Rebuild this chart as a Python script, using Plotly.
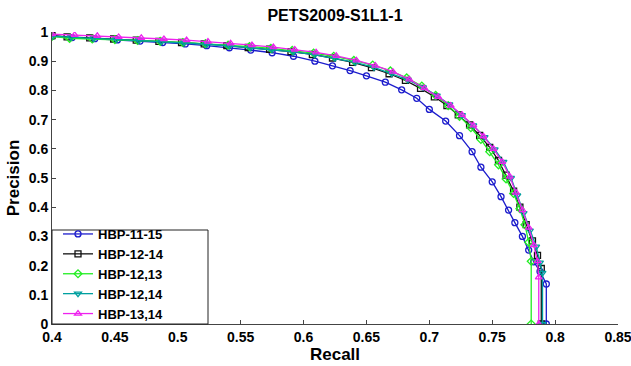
import plotly.graph_objects as go

# ---------------- data ----------------
series_names = ["HBP-11-15", "HBP-12-14", "HBP-12,13", "HBP-12,14", "HBP-13,14"]

recall_11_15 = [0.400, 0.416, 0.434, 0.452, 0.470, 0.488, 0.506, 0.523, 0.541, 0.558, 0.575, 0.592,
                0.609, 0.623, 0.637, 0.650, 0.665, 0.678, 0.690, 0.700, 0.713, 0.724, 0.734, 0.741,
                0.750, 0.757, 0.763, 0.768, 0.774, 0.779, 0.783, 0.788, 0.793, 0.793]
precision_11_15 = [0.985, 0.981, 0.977, 0.973, 0.969, 0.964, 0.959, 0.953, 0.946, 0.938, 0.929, 0.917,
                   0.900, 0.884, 0.868, 0.850, 0.828, 0.802, 0.773, 0.735, 0.695, 0.645, 0.590, 0.537,
                   0.487, 0.436, 0.390, 0.347, 0.300, 0.253, 0.213, 0.180, 0.137, 0.0]

recall_12_14 = [0.400, 0.412, 0.430, 0.449, 0.467, 0.485, 0.503, 0.521, 0.539, 0.556, 0.573, 0.590,
                0.607, 0.623, 0.639, 0.654, 0.668, 0.681, 0.693, 0.704, 0.714, 0.723, 0.732, 0.740,
                0.748, 0.755, 0.761, 0.767, 0.772, 0.777, 0.782, 0.786, 0.789, 0.789]
precision_12_14 = [0.988, 0.983, 0.980, 0.976, 0.972, 0.968, 0.964, 0.959, 0.953, 0.947, 0.941, 0.933,
                   0.923, 0.911, 0.896, 0.878, 0.857, 0.834, 0.807, 0.778, 0.748, 0.716, 0.682, 0.646,
                   0.605, 0.560, 0.510, 0.455, 0.400, 0.340, 0.285, 0.235, 0.190, 0.0]

recall_12c13 = [0.400, 0.414, 0.432, 0.450, 0.468, 0.486, 0.504, 0.522, 0.540, 0.557, 0.574, 0.591,
                0.608, 0.624, 0.640, 0.655, 0.669, 0.682, 0.694, 0.705, 0.715, 0.724, 0.733, 0.741,
                0.748, 0.755, 0.761, 0.767, 0.772, 0.776, 0.779, 0.781, 0.781]
precision_12c13 = [0.985, 0.978, 0.976, 0.974, 0.971, 0.968, 0.964, 0.960, 0.955, 0.950, 0.944, 0.937,
                   0.928, 0.917, 0.903, 0.887, 0.867, 0.843, 0.815, 0.783, 0.748, 0.711, 0.672, 0.632,
                   0.590, 0.545, 0.497, 0.447, 0.395, 0.340, 0.280, 0.215, 0.0]

recall_12c14 = [0.400, 0.415, 0.433, 0.451, 0.469, 0.487, 0.505, 0.523, 0.541, 0.558, 0.575, 0.592,
                0.609, 0.625, 0.641, 0.656, 0.670, 0.683, 0.695, 0.706, 0.716, 0.726, 0.735, 0.744,
                0.752, 0.759, 0.765, 0.770, 0.775, 0.780, 0.785, 0.788, 0.790, 0.790]
precision_12c14 = [0.986, 0.982, 0.978, 0.975, 0.971, 0.967, 0.963, 0.958, 0.952, 0.946, 0.940, 0.932,
                   0.922, 0.910, 0.896, 0.879, 0.858, 0.836, 0.810, 0.782, 0.752, 0.715, 0.680, 0.640,
                   0.598, 0.555, 0.500, 0.440, 0.380, 0.320, 0.265, 0.210, 0.175, 0.0]

recall_13c14 = [0.400, 0.418, 0.436, 0.453, 0.471, 0.489, 0.507, 0.524, 0.542, 0.559, 0.576, 0.593,
                0.610, 0.626, 0.642, 0.657, 0.671, 0.684, 0.696, 0.707, 0.717, 0.726, 0.735, 0.743,
                0.751, 0.758, 0.764, 0.769, 0.774, 0.779, 0.783, 0.786, 0.787, 0.787]
precision_13c14 = [0.993, 0.990, 0.987, 0.983, 0.980, 0.976, 0.972, 0.967, 0.961, 0.955, 0.948, 0.940,
                   0.930, 0.918, 0.903, 0.885, 0.864, 0.838, 0.808, 0.778, 0.748, 0.716, 0.680, 0.643,
                   0.600, 0.555, 0.505, 0.450, 0.390, 0.330, 0.270, 0.215, 0.160, 0.0]

x_tickvals = [0.4, 0.45, 0.5, 0.55, 0.6, 0.65, 0.7, 0.75, 0.8, 0.85]
x_ticktext = ["0.4", "0.45", "0.5", "0.55", "0.6", "0.65", "0.7", "0.75", "0.8", "0.85"]
y_tickvals = [0, 0.1, 0.2, 0.3, 0.4, 0.5, 0.6, 0.7, 0.8, 0.9, 1.0]
y_ticktext = ["0", "0.1", "0.2", "0.3", "0.4", "0.5", "0.6", "0.7", "0.8", "0.9", "1"]

# ---------------- styles ----------------
recalls = [recall_11_15, recall_12_14, recall_12c13, recall_12c14, recall_13c14]
precisions = [precision_11_15, precision_12_14, precision_12c13, precision_12c14, precision_13c14]
colors = ["#1c1ccc", "#111111", "#22ee22", "#00a0a0", "#ee22ee"]
symbols = ["circle-open", "square-open", "diamond-open", "triangle-down-open", "triangle-up-open"]

FONT = "Arial, 'Liberation Sans', sans-serif"

fig = go.Figure()
for name, rx, py, c, s in zip(series_names, recalls, precisions, colors, symbols):
    fig.add_trace(go.Scatter(
        x=rx, y=py, name=name, mode="lines+markers",
        line=dict(color=c, width=1.3),
        marker=dict(symbol=s, size=6, color=c, line=dict(color=c, width=1.3)),
    ))

W, H = 631, 366
L, R, T, B = 52, 13, 32, 42
pw, ph = W - L - R, H - T - B

# legend frame (box drawn as a shape, like the MATLAB legend)
fig.add_shape(type="rect", xref="paper", yref="paper",
              x0=0, x1=(208 - L) / pw, y0=0, y1=(H - B - 230) / ph,
              line=dict(color="#222222", width=1), fillcolor="white", layer="above")

fig.update_layout(
    width=W, height=H,
    margin=dict(l=L, r=R, t=T, b=B, autoexpand=False),
    paper_bgcolor="white", plot_bgcolor="white",
    font=dict(family=FONT, color="black"),
    title=dict(text="<b>PETS2009-S1L1-1</b>", x=(L + pw / 2) / W, xanchor="center",
               y=1 - 15 / H, yanchor="middle", font=dict(size=16, family=FONT)),
    showlegend=True,
    legend=dict(x=(58 - L) / pw, y=-5 / ph, xanchor="left", yanchor="bottom",
                bgcolor="rgba(0,0,0,0)", borderwidth=0,
                font=dict(size=13, family=FONT, color="black", weight="bold"),
                tracegroupgap=0, itemwidth=30),
)

fig.update_xaxes(
    range=[0.4, 0.85], tickvals=x_tickvals, ticktext=[f"<b>{t}</b>" for t in x_ticktext],
    ticks="inside", ticklen=4, tickcolor="#444444", showline=True, linecolor="#444444",
    linewidth=1, showgrid=False, zeroline=False, tickfont=dict(size=14, family=FONT),
    ticklabeloverflow="allow", automargin=False,
    title=dict(text="<b>Recall</b>", font=dict(size=17, family=FONT), standoff=3),
)
fig.update_yaxes(
    range=[0, 1], tickvals=y_tickvals, ticktext=[f"<b>{t}</b>" for t in y_ticktext],
    ticks="inside", ticklen=4, tickcolor="#444444", showline=True, linecolor="#444444",
    linewidth=1, showgrid=False, zeroline=False, tickfont=dict(size=14, family=FONT),
    ticklabeloverflow="allow", automargin=False,
    title=dict(text="<b>Precision</b>", font=dict(size=17, family=FONT), standoff=4),
)

fig.write_html("out.html", config={"displayModeBar": False},
               post_script="document.body.style.margin='0';document.body.style.padding='0';")
